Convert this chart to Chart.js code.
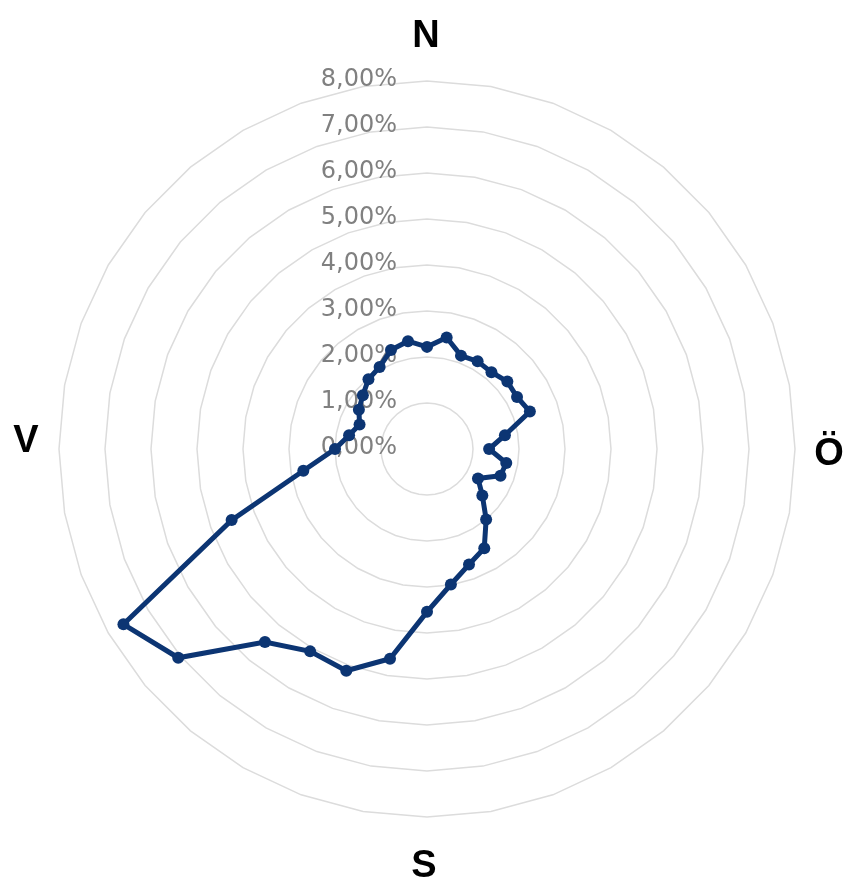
<!DOCTYPE html>
<html>
<head>
<meta charset="utf-8">
<script src="https://cdn.jsdelivr.net/npm/chart.js@4/dist/chart.umd.min.js"></script>
<style>
  html, body { margin: 0; padding: 0; background: #ffffff; }
  #wrap { position: relative; width: 843px; height: 880px; }
</style>
</head>
<body>
<div id="wrap"><canvas id="rose"></canvas></div>
<script>
// Wind directions, one spoke every 10 degrees starting at north, clockwise
const directions = [
  'N', '', '', '', '', '', '', '', '',
  'Ö', '', '', '', '', '', '', '', '',
  'S', '', '', '', '', '', '', '', '',
  'V', '', '', '', '', '', '', '', ''
];

// Share of observations per direction (percent)
const frequency = [
  2.22, 2.46, 2.16, 2.20, 2.18, 2.28, 2.26, 2.38, 1.72,
  1.35, 1.75, 1.70, 1.28, 1.57, 2.00, 2.49, 2.67, 2.99,
  3.54, 4.63, 5.13, 5.08, 5.48, 7.06, 7.62, 4.52, 2.73,
  2.00, 1.72, 1.56, 1.71, 1.82, 1.98, 2.06, 2.29, 2.38
];

// Radial axis range and step (percent)
const axisMin = 0;
const axisMax = 8;
const axisStep = 1;

const fmtPct = v => v.toFixed(2).replace('.', ',') + '%';

// Tick labels drawn left of the vertical axis, right-aligned, beneath the line
const tickLabelPlugin = {
  id: 'tickLabels',
  beforeDatasetsDraw(chart) {
    const s = chart.scales.r;
    const ctx = chart.ctx;
    ctx.save();
    ctx.font = '24px "DejaVu Sans", Verdana, sans-serif';
    ctx.fillStyle = '#808080';
    ctx.textAlign = 'right';
    ctx.textBaseline = 'middle';
    s.ticks.forEach(t => {
      const d = s.getDistanceFromCenterForValue(t.value);
      ctx.fillText(fmtPct(t.value), s.xCenter - 30, s.yCenter - d - 1);
    });
    ctx.restore();
  }
};

// Compass letters around the outer ring
const compassPlugin = {
  id: 'compass',
  afterDraw(chart) {
    const s = chart.scales.r;
    const ctx = chart.ctx;
    const R = s.drawingArea;
    const xc = s.xCenter, yc = s.yCenter;
    const spots = {
      'N': [xc - 1, yc - R - 34],
      'Ö': [xc + R + 34, yc + 16],
      'S': [xc - 3, yc + R + 60],
      'V': [xc - R - 33, yc + 3]
    };
    ctx.save();
    ctx.font = 'bold 38px "Liberation Sans", Arial, sans-serif';
    ctx.fillStyle = '#000000';
    ctx.textAlign = 'center';
    ctx.textBaseline = 'alphabetic';
    directions.forEach(lbl => {
      if (lbl && spots[lbl]) ctx.fillText(lbl, spots[lbl][0], spots[lbl][1]);
    });
    ctx.restore();
  }
};

new Chart(document.getElementById('rose'), {
  type: 'radar',
  data: {
    labels: directions,
    datasets: [{
      data: frequency,
      borderColor: '#0c3573',
      backgroundColor: '#0c3573',
      borderWidth: 5,
      pointRadius: 6,
      pointBackgroundColor: '#0c3573',
      pointBorderColor: '#0c3573',
      pointBorderWidth: 0,
      fill: false,
      tension: 0
    }]
  },
  options: {
    responsive: true,
    maintainAspectRatio: false,
    animation: false,
    layout: { padding: { left: 59, right: 48, top: 81, bottom: 63 } },
    plugins: {
      legend: { display: false },
      tooltip: { enabled: false }
    },
    scales: {
      r: {
        min: axisMin,
        max: axisMax,
        beginAtZero: true,
        ticks: { stepSize: axisStep, display: false },
        grid: { color: '#dcdcdc', lineWidth: 1.5, circular: false },
        angleLines: { display: false },
        pointLabels: { display: false }
      }
    }
  },
  plugins: [tickLabelPlugin, compassPlugin]
});
</script>
</body>
</html>
